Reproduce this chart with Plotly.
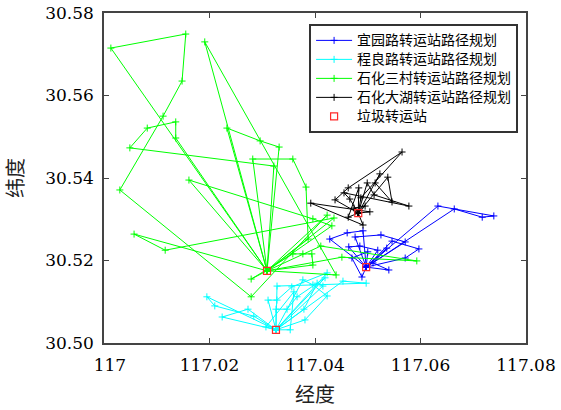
import plotly.graph_objects as go

# ---- 宜园路转运站 (index 0 = transfer station) ----
yiyuan_lon = [117.0497, 117.0633, 117.0664, 117.0717, 117.0739, 117.0428, 117.0461, 117.0476,
              117.0491, 117.0464, 117.0485, 117.0525, 117.0546, 117.0571, 117.0597, 117.0500,
              117.0519, 117.0536, 117.0571, 117.0540, 117.0489, 117.0510, 117.0470]
yiyuan_lat = [30.5184, 30.5332, 30.5325, 30.5305, 30.5308, 30.5252, 30.5267, 30.5257,
              30.5272, 30.5233, 30.5235, 30.5262, 30.5247, 30.5245, 30.5228, 30.5221,
              30.5225, 30.5230, 30.5206, 30.5177, 30.5160, 30.5194, 30.5206]
yiyuan_trips = [[0, 1, 4, 3, 2, 0], [0, 5, 6, 8, 0], [0, 7, 11, 13, 0], [0, 9, 10, 16, 0],
                [0, 12, 14, 18, 0], [0, 15, 22, 20, 0], [0, 17, 21, 19, 0]]

# ---- 程良路转运站 ----
chengliang_lon = [117.0326, 117.0195, 117.0210, 117.0224, 117.0273, 117.0284, 117.0328, 117.0311,
                  117.0328, 117.0326, 117.0356, 117.0377, 117.0366, 117.0347, 117.0379, 117.0381,
                  117.0404, 117.0423, 117.0419, 117.0415, 117.0423, 117.0453, 117.0497, 117.0353,
                  117.0307, 117.0360, 117.0396]
chengliang_lat = [30.5032, 30.5112, 30.5090, 30.5063, 30.5082, 30.5065, 30.5138, 30.5104,
                  30.5104, 30.5082, 30.5136, 30.5153, 30.5112, 30.5082, 30.5082, 30.5056,
                  30.5145, 30.5170, 30.5158, 30.5138, 30.5114, 30.5150, 30.5145, 30.5032,
                  30.5039, 30.5124, 30.5141]
chengliang_trips = [[0, 1, 2, 5, 0], [0, 3, 4, 0], [0, 6, 22, 21, 0], [0, 7, 8, 10, 17, 0],
                    [0, 9, 13, 12, 18, 0], [0, 14, 16, 19, 0], [0, 15, 20, 26, 11, 0],
                    [0, 24, 25, 23, 0]]

# ---- 石化三村转运站 ----
sanhua_lon = [117.0309, 117.0013, 117.0155, 117.0148, 117.0191, 117.0112, 117.0136, 117.0082,
              117.0233, 117.0136, 117.0296, 117.0332, 117.0049, 117.0282, 117.0358, 117.0322,
              117.0161, 117.0030, 117.0383, 117.0396, 117.0423, 117.0436, 117.0387, 117.0411,
              117.0358, 117.0377, 117.0394, 117.0451, 117.0396, 117.0440, 117.0279, 117.0279,
              117.0057, 117.0116, 117.0593, 117.0432]
sanhua_lat = [30.5175, 30.5715, 30.5749, 30.5635, 30.5730, 30.5550, 30.5536, 30.5521,
              30.5521, 30.5497, 30.5490, 30.5475, 30.5473, 30.5446, 30.5446, 30.5429,
              30.5395, 30.5371, 30.5378, 30.5301, 30.5310, 30.5303, 30.5252, 30.5235,
              30.5216, 30.5216, 30.5216, 30.5208, 30.5189, 30.5165, 30.5155, 30.5112,
              30.5264, 30.5225, 30.5199, 30.5284]
sanhua_trips = [[0, 1, 2, 3, 5, 17, 31, 20, 0], [0, 4, 29, 0], [0, 9, 6, 7, 12, 15, 0],
                [0, 8, 10, 11, 0], [0, 13, 14, 18, 22, 0], [0, 16, 19, 35, 0],
                [0, 32, 33, 21, 0], [0, 30, 24, 25, 26, 28, 0], [0, 23, 34, 27, 0]]

# ---- 石化大湖转运站 ----
dahu_lon = [117.0482, 117.0565, 117.0538, 117.0523, 117.0514, 117.0499, 117.0483, 117.0463,
            117.0455, 117.0438, 117.0466, 117.0487, 117.0512, 117.0546, 117.0578, 117.0463,
            117.0491, 117.0474, 117.0504, 117.0495, 117.0392]
dahu_lat = [30.5315, 30.5463, 30.5402, 30.5410, 30.5388, 30.5388, 30.5376, 30.5376,
            30.5364, 30.5347, 30.5349, 30.5352, 30.5359, 30.5342, 30.5332, 30.5305,
            30.5286, 30.5327, 30.5318, 30.5332, 30.5339]
dahu_trips = [[0, 18, 20, 16, 0], [0, 11, 1, 7, 9, 0], [0, 3, 4, 13, 2, 0],
              [0, 5, 12, 14, 8, 10, 0], [0, 6, 15, 0], [0, 17, 19, 0]]

series_names = ["宜园路转运站路径规划", "程良路转运站路径规划",
                "石化三村转运站路径规划", "石化大湖转运站路径规划"]
series_colors = ["#0000ff", "#00ffff", "#00ff00", "#000000"]
station_name = "垃圾转运站"

x_ticks = [117, 117.02, 117.04, 117.06, 117.08]
x_ticktext = ["\u2002\u2009117", "117.02", "117.04", "117.06", "117.08"]
y_ticks = [30.50, 30.52, 30.54, 30.56, 30.58]
y_ticktext = ["30.50", "30.52", "30.54", "30.56", "30.58"]


def route_path(lon, lat, trips):
    xs, ys = [], []
    for trip in trips:
        for i in trip:
            xs.append(lon[i])
            ys.append(lat[i])
    return xs, ys


def legend_label(text):
    # legend rows stay compact while the label itself is drawn at 14px
    return '<span style="font-size:14px">' + text + "</span>"


fig = go.Figure()
all_series = [(yiyuan_lon, yiyuan_lat, yiyuan_trips),
              (chengliang_lon, chengliang_lat, chengliang_trips),
              (sanhua_lon, sanhua_lat, sanhua_trips),
              (dahu_lon, dahu_lat, dahu_trips)]

for (lon, lat, trips), name, color in zip(all_series, series_names, series_colors):
    xs, ys = route_path(lon, lat, trips)
    fig.add_trace(go.Scatter(
        x=xs, y=ys, mode="lines+markers", name=legend_label(name),
        line=dict(color=color, width=1),
        marker=dict(symbol="cross-thin", size=5, line=dict(color=color, width=1)),
    ))

fig.add_trace(go.Scatter(
    x=[s[0][0] for s in all_series], y=[s[1][0] for s in all_series],
    mode="markers", name=legend_label(station_name),
    marker=dict(symbol="square-open", size=7, color="#ff2a2a", line=dict(width=1.2)),
))

tick_font = dict(family="DejaVu Serif", size=17, color="#000000")
axis_common = dict(
    showgrid=False, zeroline=False, showline=True, linecolor="#444444", linewidth=1.5,
    mirror="ticks", ticks="inside", ticklen=5, tickcolor="#444444", tickwidth=1,
    automargin=False, tickfont=tick_font,
)

fig.update_layout(
    width=561, height=410,
    margin=dict(l=104, r=35, t=13, b=67),
    paper_bgcolor="white", plot_bgcolor="white",
    xaxis=dict(range=[117, 117.08], tickvals=x_ticks, ticktext=x_ticktext,
               ticklabelstandoff=6,
               title=dict(text="经度", standoff=14,
                          font=dict(family="Noto Sans CJK SC", size=20, color="#222222")),
               **axis_common),
    yaxis=dict(range=[30.50, 30.58], tickvals=y_ticks, ticktext=y_ticktext,
               ticklabelstandoff=5,
               title=dict(text="纬度", standoff=22,
                          font=dict(family="Noto Sans CJK SC", size=20, color="#222222")),
               **axis_common),
    legend=dict(x=0.486, y=0.967, xanchor="left", yanchor="top",
                bgcolor="white", bordercolor="#333333", borderwidth=2,
                font=dict(family="Noto Sans CJK SC", size=11, color="#000000"),
                tracegroupgap=0, itemwidth=36),
    showlegend=True,
)

fig.write_html("out.html")
